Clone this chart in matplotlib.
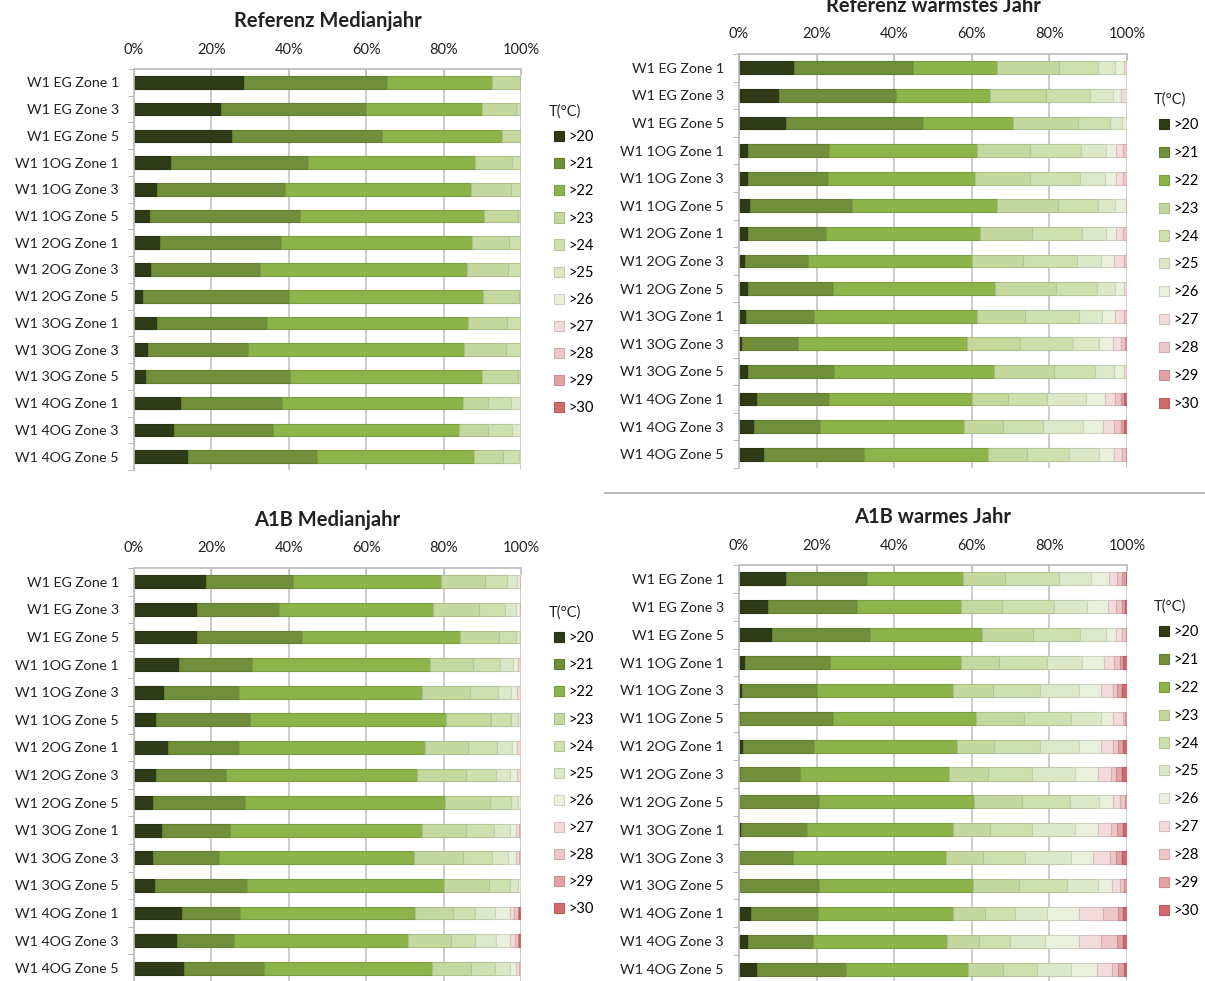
import numpy as np
import matplotlib
matplotlib.use("Agg")
import matplotlib.pyplot as plt
from matplotlib.lines import Line2D
from matplotlib.ticker import FixedLocator, PercentFormatter

plt.rcParams['font.family'] = ['Lato', 'DejaVu Sans']

zones = ["W1 EG Zone 1", "W1 EG Zone 3", "W1 EG Zone 5",
         "W1 1OG Zone 1", "W1 1OG Zone 3", "W1 1OG Zone 5",
         "W1 2OG Zone 1", "W1 2OG Zone 3", "W1 2OG Zone 5",
         "W1 3OG Zone 1", "W1 3OG Zone 3", "W1 3OG Zone 5",
         "W1 4OG Zone 1", "W1 4OG Zone 3", "W1 4OG Zone 5"]
temps = [">20", ">21", ">22", ">23", ">24", ">25", ">26", ">27", ">28", ">29", ">30"]
colors = ["#2f3b17", "#718f3a", "#8db34b", "#c4d89f", "#cde0ad", "#dce8c8",
          "#e9f0dc", "#f3dadb", "#eec6c7", "#e2a2a4", "#d36a6c"]

# cumulative share (%) at the end of each temperature class, missing = 100
ref_median = [
    [28.5, 65.5, 92.6, 99.7],
    [22.5, 59.9, 90.0, 98.7],
    [25.4, 64.1, 95.1],
    [9.6, 44.9, 88.1, 97.7],
    [6.0, 39.0, 87.0, 97.3],
    [4.1, 42.9, 90.5, 99.3],
    [6.8, 38.0, 87.3, 97.0],
    [4.3, 32.6, 86.0, 96.7],
    [2.4, 40.0, 90.2, 99.4],
    [6.0, 34.4, 86.4, 96.3],
    [3.7, 29.5, 85.3, 96.0],
    [3.0, 40.2, 89.9, 99.1],
    [12.1, 38.2, 84.9, 91.4, 97.3],
    [10.3, 36.0, 84.1, 91.4, 97.8],
    [14.0, 47.4, 87.9, 95.4, 99.4],
]
ref_warm = [
    [14.3, 44.9, 66.4, 82.6, 92.4, 96.9, 99.2],
    [10.4, 40.5, 64.8, 79.2, 90.5, 96.5, 98.5],
    [12.0, 47.3, 70.6, 87.3, 95.6, 98.7, 99.9],
    [2.4, 23.3, 61.3, 75.1, 88.1, 94.5, 97.2, 99.0],
    [2.4, 22.9, 60.9, 74.9, 87.8, 94.3, 97.1, 98.9],
    [2.8, 29.1, 66.5, 82.3, 92.5, 97.0, 99.7],
    [2.4, 22.3, 62.2, 75.4, 88.3, 94.6, 97.2, 99.0],
    [1.5, 17.7, 60.0, 73.3, 87.1, 93.4, 96.7, 99.1],
    [2.2, 24.1, 66.0, 81.6, 92.2, 96.9, 99.1],
    [1.8, 19.3, 61.3, 73.8, 87.5, 93.6, 96.9, 99.2],
    [0.9, 15.2, 58.8, 72.3, 86.0, 92.9, 96.3, 98.4, 99.5],
    [2.2, 24.6, 65.8, 81.2, 91.8, 96.6, 99.1],
    [4.7, 23.1, 60.1, 69.4, 79.3, 89.4, 94.3, 96.9, 98.5, 99.3],
    [3.9, 21.0, 58.1, 68.1, 78.4, 88.6, 93.9, 96.7, 98.4, 99.2],
    [6.4, 32.2, 64.1, 74.2, 85.1, 92.9, 96.6, 98.6, 99.7],
]
a1b_median = [
    [18.5, 41.1, 79.4, 90.8, 96.3, 98.9, 99.8],
    [16.2, 37.5, 77.3, 89.2, 95.8, 98.6, 99.7],
    [16.2, 43.5, 84.2, 94.3, 98.6, 99.7],
    [11.6, 30.6, 76.6, 87.6, 94.7, 97.9, 99.2],
    [7.8, 27.1, 74.3, 86.8, 94.1, 97.5, 99.0],
    [5.8, 30.1, 80.6, 92.3, 97.5, 99.3, 99.8],
    [8.9, 27.1, 75.3, 86.2, 93.8, 97.8, 99.0],
    [5.8, 23.8, 73.0, 85.7, 93.5, 97.1, 99.0],
    [5.0, 28.7, 80.3, 92.1, 97.4, 99.3, 99.9],
    [7.2, 24.8, 74.3, 85.9, 93.1, 97.2, 98.8, 99.6],
    [5.0, 22.0, 72.3, 84.9, 92.5, 96.7, 98.6, 99.4],
    [5.3, 29.2, 80.1, 91.8, 97.1, 99.3, 99.9],
    [12.3, 27.5, 72.5, 82.4, 88.1, 93.4, 97.1, 98.3, 99.1, 99.6],
    [11.0, 25.9, 70.9, 81.8, 88.0, 93.5, 97.2, 98.4, 99.1, 99.6],
    [13.0, 33.6, 77.1, 87.2, 93.2, 97.1, 98.8, 99.6],
]
a1b_warm = [
    [12.0, 33.1, 57.8, 68.6, 82.5, 90.7, 95.4, 97.3, 98.6, 99.7],
    [7.6, 30.4, 57.3, 67.8, 81.2, 89.6, 95.0, 97.1, 98.8, 99.5],
    [8.4, 33.7, 62.5, 75.8, 87.8, 94.7, 97.2, 98.7, 99.7],
    [1.5, 23.5, 57.3, 67.1, 79.3, 88.4, 94.2, 96.6, 98.2, 99.0],
    [0.9, 20.0, 55.1, 65.4, 77.5, 87.5, 93.2, 96.3, 97.5, 98.7],
    [0.3, 24.1, 61.0, 73.4, 85.5, 93.2, 96.5, 98.9, 99.6],
    [1.1, 19.3, 56.3, 65.7, 77.5, 87.5, 93.4, 96.5, 97.8, 98.9],
    [0.2, 15.7, 54.0, 64.1, 75.5, 86.5, 92.4, 95.9, 97.2, 98.6],
    [0.0, 20.6, 60.6, 73.0, 85.2, 92.9, 96.3, 98.2, 99.5],
    [0.6, 17.4, 55.2, 64.7, 75.5, 86.7, 92.4, 95.9, 97.3, 98.9],
    [0.0, 14.0, 53.4, 63.0, 73.8, 85.5, 91.3, 95.6, 97.2, 98.8],
    [0.0, 20.7, 60.2, 72.1, 84.6, 92.4, 96.1, 98.2, 99.3],
    [3.1, 20.3, 55.2, 63.5, 71.1, 79.3, 87.7, 93.9, 97.6, 98.9],
    [2.4, 19.0, 53.7, 61.8, 69.9, 78.9, 87.5, 93.3, 97.3, 98.9],
    [4.6, 27.6, 58.9, 68.1, 76.7, 85.5, 92.2, 96.1, 97.8, 99.1],
]

W, H = 1205, 981
fig = plt.figure(figsize=(W / 100, H / 100), dpi=100)

# (title, data, left px, right px, top px, bottom px, legend x px, legend title y px, spacing)
panels = [
    ("Referenz Medianjahr", ref_median, 134, 521, 69, 470, 549, 112, 0.9),
    ("Referenz wärmstes Jahr", ref_warm, 739, 1127, 54, 468, 1154, 100, 0.95),
    ("A1B Medianjahr", a1b_median, 134, 521, 568, 982, 549, 613, 0.9),
    ("A1B warmes Jahr", a1b_warm, 739, 1127, 565, 983, 1154, 607, 0.95),
]


def darker(c, f=0.88):
    r, g, b = matplotlib.colors.to_rgb(c)
    return (r * f, g * f, b * f)


for title, data, x0, x1, y0, y1, lx, ly, sp in panels:
    ax = fig.add_axes([x0 / W, 1 - y1 / H, (x1 - x0) / W, (y1 - y0) / H])
    cum = np.array([row + [100.0] * (len(temps) - len(row)) for row in data])
    seg = np.diff(np.hstack([np.zeros((len(zones), 1)), cum]), axis=1)
    y = np.arange(len(zones))
    left = np.zeros(len(zones))
    for k, t in enumerate(temps):
        ax.barh(y, seg[:, k], left=left, height=0.47, color=colors[k],
                edgecolor=darker(colors[k]), linewidth=0.8, label=t)
        left += seg[:, k]
    ax.set_xlim(0, 100)
    ax.set_ylim(len(zones) - 0.5, -0.5)
    ax.set_yticks(y)
    ax.set_yticklabels(zones)
    ax.yaxis.set_minor_locator(FixedLocator(np.arange(len(zones) + 1) - 0.5))
    ax.tick_params(axis='y', which='major', length=0, pad=11, labelsize=10.2, colors='#222222')
    ax.tick_params(axis='y', which='minor', length=4, color='#aaaaaa')
    ax.set_xticks(np.arange(0, 101, 20))
    ax.xaxis.set_major_formatter(PercentFormatter(decimals=0))
    ax.xaxis.tick_top()
    ax.tick_params(axis='x', length=4, direction='in', pad=9, labelsize=10.5,
                   colors='#222222', color='#bbbbbb')
    ax.grid(axis='x', color='#c4c4c4', linewidth=1.2)
    ax.set_axisbelow(True)
    for s in ['right', 'bottom']:
        ax.spines[s].set_visible(False)
    for s in ['left', 'top']:
        ax.spines[s].set_color('#bbbbbb')
        ax.spines[s].set_linewidth(1.2)
    fig.text((x0 + x1) / 2 / W, 1 - (y0 - 48) / H, title, ha='center', va='center',
             fontsize=14.5, fontweight='bold', color='#222222')
    fig.text(lx / W, 1 - ly / H, "T(°C)", ha='left', va='center',
             fontsize=10.5, color='#222222')
    ax.legend(loc='upper left', bbox_to_anchor=((lx - 5) / W, 1 - (ly + 8) / H),
              bbox_transform=fig.transFigure, frameon=False, fontsize=10.5,
              handlelength=0.7, handleheight=0.7,
              handletextpad=0.3, labelspacing=sp, borderpad=0.2)

fig.add_artist(Line2D([605 / W, 1.0], [1 - 493 / H, 1 - 493 / H],
                      color='#aaaaaa', linewidth=1.2))

fig.savefig("out.png", dpi=100)
